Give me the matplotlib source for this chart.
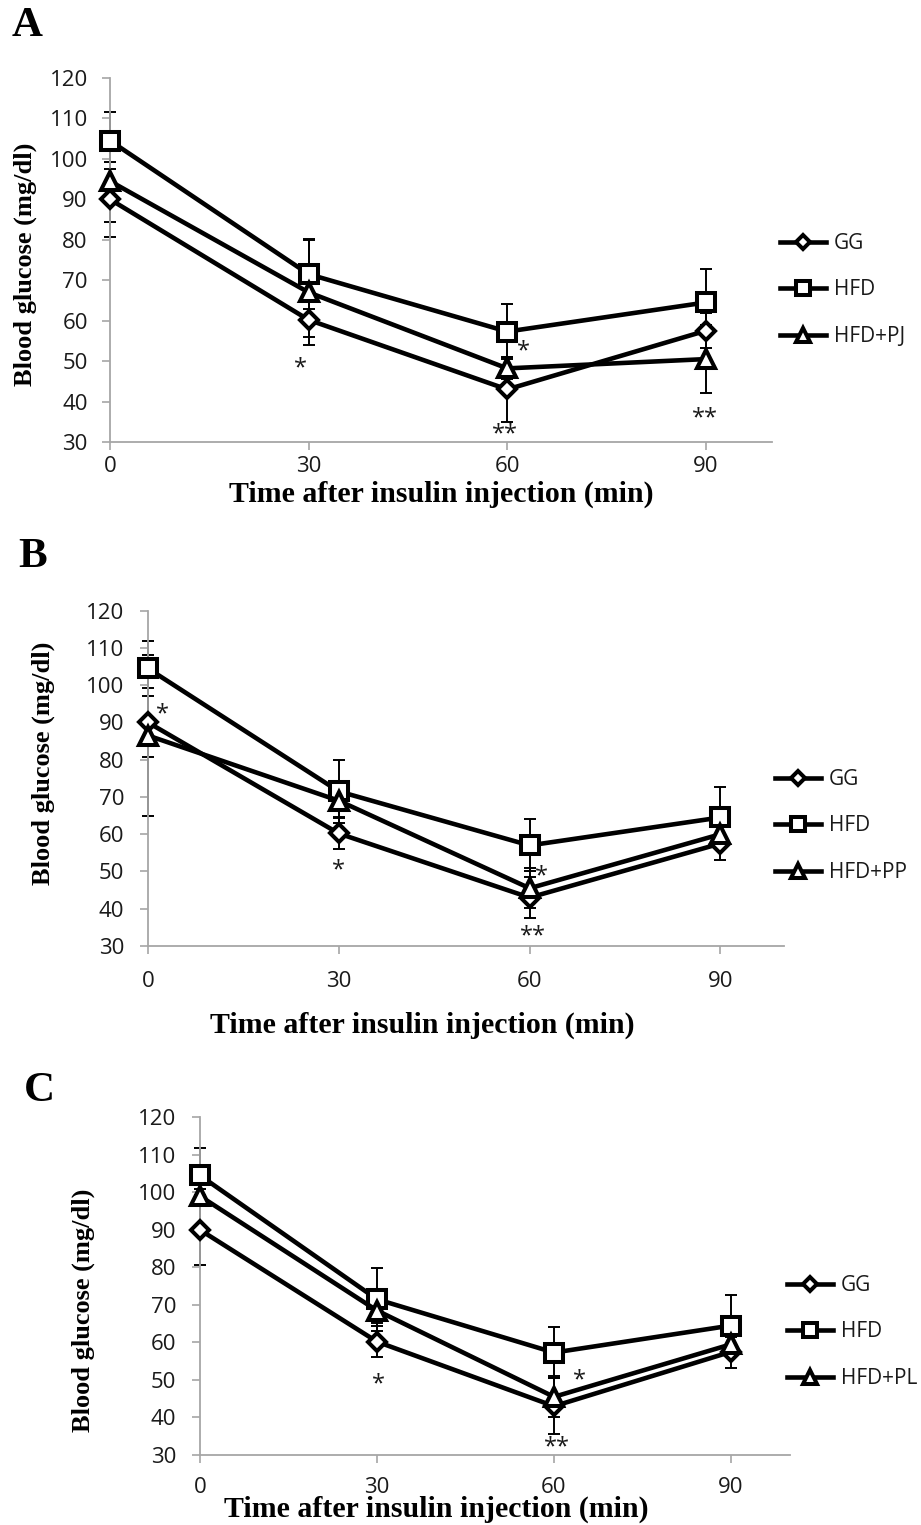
import matplotlib.pyplot as plt
from matplotlib.lines import Line2D

# Tamano de la figura en pixeles (dpi = 100)
W, H = 921, 1525

tiempos = [0, 30, 60, 90]
yticks = [30, 40, 50, 60, 70, 80, 90, 100, 110, 120]
xticks = [0, 30, 60, 90]

# Panel A: GG, HFD, HFD+PJ
gg_A = [90, 60.2, 43, 57.5]
gg_A_err = [9.3, 4.3, 8.0, 4.3]
hfd_A = [104.5, 71.5, 57.3, 64.5]
hfd_A_err = [7.0, 8.7, 6.8, 8.3]
pj_A = [94.5, 67, 48.2, 50.5]
pj_A_err = [10.0, 13.0, 2.7, 8.5]

# Panel B: GG, HFD, HFD+PP
gg_B = [90, 60.2, 43, 57.5]
gg_B_err = [9.2, 4.2, 5.6, 4.5]
hfd_B = [104.5, 71.5, 57, 64.5]
hfd_B_err = [7.3, 8.5, 7.0, 8.3]
pp_B = [86.5, 69, 45.5, 60]
pp_B_err = [21.5, 4.5, 5.4, 2.0]

# Panel C: GG, HFD, HFD+PL
gg_C = [90, 60.2, 43, 57.5]
gg_C_err = [9.4, 4.2, 7.5, 4.2]
hfd_C = [104.5, 71.5, 57.3, 64.5]
hfd_C_err = [7.4, 8.4, 6.8, 8.1]
pl_C = [99, 68.5, 45.5, 59.5]
pl_C_err = [2.0, 3.3, 5.5, 2.0]

# Asteriscos de significancia (x, y, texto)
sig_A = [(28.7, 48.3, '*'), (62.5, 52.3, '*'), (59.7, 31.9, '**'), (89.9, 35.9, '**')]
sig_B = [(2.2, 92.1, '*'), (30, 50.4, '*'), (61.8, 48.8, '*'), (60.5, 32.6, '**')]
sig_C = [(30.2, 48.7, '*'), (64.4, 50.0, '*'), (60.5, 32.1, '**')]

SANS = 'Open Sans'
SERIF = 'Liberation Serif'
GRIS = '#a6a6a6'

marcadores = {
    'D': dict(marker='D', markersize=9),
    's': dict(marker='s', markersize=12.5),
    '^': dict(marker='^', markersize=12.5),
}


def fx(px):
    return px / W


def fy(py):
    return 1 - py / H


def dibujar_panel(fig, cfg):
    x0, x1, yt, yb = cfg['caja']
    ax = fig.add_axes([fx(x0), fy(yb), (x1 - x0) / W, (yb - yt) / H])

    series = cfg['series']
    # barras de error primero, debajo de lineas y marcadores
    for y, err, m, nombre in series:
        ax.errorbar(tiempos, y, yerr=err, fmt='none', ecolor='black',
                    elinewidth=1.4, capsize=4.5, capthick=1.4, zorder=2,
                    clip_on=False)
    for y, err, m, nombre in series:
        ax.plot(tiempos, y, color='black', lw=3.3, markerfacecolor='white',
                markeredgecolor='black', markeredgewidth=2.9, zorder=3,
                clip_on=False, **marcadores[m])

    ax.set_xlim(0, 100)
    ax.set_ylim(30, 120)
    ax.set_xticks(xticks)
    ax.set_yticks(yticks)
    for s in ['top', 'right']:
        ax.spines[s].set_visible(False)
    for s in ['left', 'bottom']:
        ax.spines[s].set_color(GRIS)
        ax.spines[s].set_linewidth(1.3)
    ax.tick_params(axis='y', direction='out', length=6, width=1.2, color=GRIS,
                   pad=cfg['ypad'], labelsize=16, labelcolor='#1a1a1a')
    ax.tick_params(axis='x', direction='out', length=6, width=1.2, color=GRIS,
                   pad=cfg['xpad'], labelsize=16, labelcolor='#1a1a1a')
    for lab in ax.get_xticklabels() + ax.get_yticklabels():
        lab.set_family(SANS)

    for x, y, t in cfg['sig']:
        ax.text(x, y, t, ha='center', va='center', fontsize=17, family=SANS,
                color='#1a1a1a', clip_on=False)

    # etiquetas de ejes y letra del panel
    lx, ly = cfg['ylabel']
    fig.text(fx(lx), fy(ly), 'Blood glucose (mg/dl)', rotation=90, ha='center',
             va='center', fontsize=19, fontweight='bold', family=SERIF)
    lx, ly = cfg['xlabel']
    fig.text(fx(lx), fy(ly), 'Time after insulin injection (min)', ha='center',
             va='center', fontsize=21.5, fontweight='bold', family=SERIF)
    lx, ly = cfg['letra']
    fig.text(fx(lx), fy(ly), cfg['nombre'], ha='center', va='center',
             fontsize=31, fontweight='bold', family=SERIF)

    # leyenda a la derecha
    handles = [Line2D([], [], color='black', lw=3.3, markerfacecolor='white',
                      markeredgecolor='black', markeredgewidth=2.9,
                      **marcadores[m]) for _, _, m, _ in series]
    labels = [nombre for _, _, _, nombre in series]
    lx, ly = cfg['leyenda']
    leg = fig.legend(handles, labels, loc='upper left',
                     bbox_to_anchor=(fx(lx), fy(ly)), frameon=False,
                     borderpad=0, borderaxespad=0, handlelength=2.2,
                     handletextpad=0.4, labelspacing=1.22, markerscale=0.8,
                     prop={'family': SANS, 'size': 15})
    for t in leg.get_texts():
        t.set_color('#1a1a1a')
    return ax


fig = plt.figure(figsize=(W / 100, H / 100), dpi=100)

paneles = [
    dict(nombre='A', caja=(110, 772, 78, 442), ypad=10, xpad=4,
         ylabel=(25, 264), xlabel=(441, 494), letra=(27, 26), leyenda=(780, 233),
         sig=sig_A,
         series=[(gg_A, gg_A_err, 'D', 'GG'), (hfd_A, hfd_A_err, 's', 'HFD'),
                 (pj_A, pj_A_err, '^', 'HFD+PJ')]),
    dict(nombre='B', caja=(148, 784, 610.7, 946), ypad=11, xpad=12,
         ylabel=(43, 763), xlabel=(422, 1025), letra=(33, 557), leyenda=(775, 769),
         sig=sig_B,
         series=[(gg_B, gg_B_err, 'D', 'GG'), (hfd_B, hfd_B_err, 's', 'HFD'),
                 (pp_B, pp_B_err, '^', 'HFD+PP')]),
    dict(nombre='C', caja=(200, 790, 1117.3, 1455), ypad=11, xpad=10,
         ylabel=(83, 1310), xlabel=(436, 1509), letra=(39, 1091), leyenda=(787, 1275),
         sig=sig_C,
         series=[(gg_C, gg_C_err, 'D', 'GG'), (hfd_C, hfd_C_err, 's', 'HFD'),
                 (pl_C, pl_C_err, '^', 'HFD+PL')]),
]

for cfg in paneles:
    dibujar_panel(fig, cfg)

fig.savefig('out.png', dpi=100)
